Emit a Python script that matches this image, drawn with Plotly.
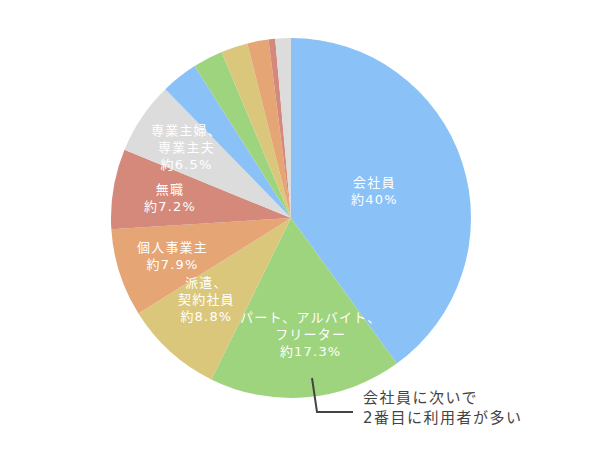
import math
import plotly.graph_objects as go

categories = ["会社員", "パート、アルバイト、フリーター", "派遣、契約社員", "個人事業主", "無職",
              "専業主婦、専業主夫", "その他1", "その他2", "その他3", "その他4", "その他5", "その他6"]
values = [40, 17.3, 8.8, 7.9, 7.2, 6.5, 3.3, 2.7, 2.4, 1.9, 0.6, 1.4]
label_lines = [["会社員", "約40%"], ["パート、アルバイト、", "フリーター", "約17.3%"], ["派遣、", "契約社員", "約8.8%"],
               ["個人事業主", "約7.9%"], ["無職", "約7.2%"], ["専業主婦、", "専業主夫", "約6.5%"]]
label_radius = [0.49, 0.655, 0.652, 0.69, 0.68, 0.70]
label_angle_shift = [0, -4.9, 3.6, 0, 0, 0]
colors = ["#8ac1f7", "#9fd47e", "#dbc77b", "#e6a575", "#d4897a", "#dcdcdc"] * 2

W, H = 600, 462
cx, cy, R = 291, 218, 180
FONT = "DejaVu Sans, Noto Sans CJK JP, sans-serif"


def spaced(lines, sp):
    return "<br>".join(f'<span style="letter-spacing:{sp}px">{t}</span>' for t in lines)


fig = go.Figure(go.Pie(
    labels=categories, values=values, sort=False, direction="clockwise", rotation=0,
    marker=dict(colors=colors, line=dict(width=0)),
    textinfo="none", hoverinfo="skip", showlegend=False,
    domain=dict(x=[(cx - R) / W, (cx + R) / W], y=[1 - (cy + R) / H, 1 - (cy - R) / H]),
))

total = sum(values)
cum = 0
annotations = []
for i, v in enumerate(values):
    mid = (cum + v / 2) / total * 360
    cum += v
    if i < len(label_lines):
        a = math.radians(mid + label_angle_shift[i])
        r = R * label_radius[i]
        px = cx + r * math.sin(a)
        py = cy - r * math.cos(a)
        annotations.append(dict(x=px / W, y=1 - py / H, xref="paper", yref="paper",
                                text=spaced(label_lines[i], 1.2), showarrow=False,
                                font=dict(color="white", size=13, family=FONT),
                                align="center", xanchor="center", yanchor="middle"))

annotations.append(dict(x=361 / W, y=1 - 408 / H, xref="paper", yref="paper",
                        text=spaced(["会社員に次いで", "2番目に利用者が多い"], 1.5), showarrow=False,
                        font=dict(color="#444444", size=15, family=FONT),
                        align="left", xanchor="left", yanchor="middle"))

fig.update_layout(
    width=W, height=H, margin=dict(l=0, r=0, t=0, b=0),
    paper_bgcolor="white", plot_bgcolor="white",
    annotations=annotations,
    shapes=[dict(type="path", xref="paper", yref="paper",
                 path=f"M {312/W} {1-378/H} L {317/W} {1-412/H} L {353/W} {1-412/H}",
                 line=dict(color="#444444", width=2))],
)
fig.write_html("out.html")
